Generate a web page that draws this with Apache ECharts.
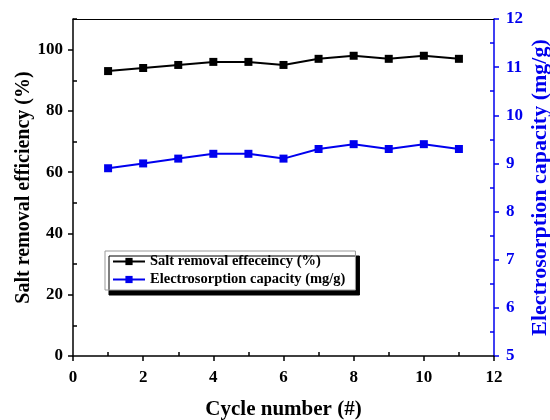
<!DOCTYPE html>
<html><head><meta charset="utf-8">
<script src="https://cdn.jsdelivr.net/npm/echarts@6/dist/echarts.min.js"></script>
<style>html,body{margin:0;padding:0;background:#fff}#c{width:550px;height:420px}</style>
</head><body><div id="c"></div>
<script>
var cycles = [1,2,3,4,5,6,7,8,9,10,11];
var efficiency = [93,94,95,96,96,95,97,98,97,98,97];
var capacity = [8.9,9.0,9.1,9.2,9.2,9.1,9.3,9.4,9.3,9.4,9.3];
var seriesNames = ['Salt removal effeceincy (%)','Electrosorption capacity (mg/g)'];
var xMinorPos = ['0','1','2','3','4','5','6','7','8','9','10','11','12'];
var yLeftMinorPos = ['0','10','20','30','40','50','60','70','80','90','100','110'];
var yRightMinorPos = ['5','5.5','6','6.5','7','7.5','8','8.5','9','9.5','10','10.5','11','11.5','12'];
var font = 'Liberation Serif';
var blue = '#0000ee';
function odd(i){ return i % 2 === 1; }
function minorAxis(cats, pos, color){
  return {
    type:'category', data:cats, boundaryGap:false, position:pos,
    axisLine:{show:false,onZero:false}, axisLabel:{show:false}, splitLine:{show:false},
    axisTick:{show:true, inside:true, length:4, interval:odd, lineStyle:{color:color,width:1.5}}
  };
}
var chart = echarts.init(document.getElementById('c'));
var xMinor = minorAxis(xMinorPos,'bottom','#000');
var yLMinor = minorAxis(yLeftMinorPos,'left','#000');
var yRMinor = minorAxis(yRightMinorPos,'right',blue);
chart.setOption({
  animation:false,
  grid:{left:73,right:56,top:19,bottom:64,outerBoundsMode:'none',containLabel:false},
  legend:{
    orient:'vertical', left:105, top:251,
    data:seriesNames, itemWidth:32, itemHeight:9, itemGap:3,
    padding:[3,10,3,7],
    backgroundColor:'#fff', borderColor:'#999', borderWidth:1,
    shadowColor:'#000', shadowBlur:0, shadowOffsetX:4, shadowOffsetY:5,
    borderRadius:0,
    textStyle:{fontFamily:font,fontWeight:'bold',fontSize:14.5,color:'#000'}
  },
  xAxis:[{
    type:'value', min:0, max:12, interval:2, position:'bottom',
    name:'Cycle number (#)', nameLocation:'middle', nameGap:43, nameMoveOverlap:false,
    nameTextStyle:{fontFamily:font,fontWeight:'bold',fontSize:21,color:'#000'},
    axisLine:{onZero:false,lineStyle:{color:'#000',width:1.5}},
    axisTick:{lineStyle:{color:'#000',width:1.5},length:5},
    splitLine:{show:false},
    axisLabel:{fontFamily:font,fontWeight:'bold',fontSize:17,color:'#000',margin:13}
  }, xMinor, {
    type:'value', min:0, max:12, position:'top',
    axisLine:{show:true,onZero:false,lineStyle:{color:'#000',width:1}},
    axisTick:{show:false}, axisLabel:{show:false}, splitLine:{show:false}
  }],
  yAxis:[{
    type:'value', min:0, max:110, interval:20, position:'left',
    name:'Salt removal efficiency (%)', nameLocation:'middle', nameGap:39, nameRotate:90, nameMoveOverlap:false,
    nameTextStyle:{fontFamily:font,fontWeight:'bold',fontSize:20,color:'#000'},
    axisLine:{show:true,onZero:false,lineStyle:{color:'#000',width:1.5}},
    axisTick:{show:true,lineStyle:{color:'#000',width:1.5},length:5},
    splitLine:{show:false},
    axisLabel:{fontFamily:font,fontWeight:'bold',fontSize:17,color:'#000',showMaxLabel:false,margin:10}
  },{
    type:'value', min:5, max:12, interval:1, position:'right',
    name:'Electrosorption capacity (mg/g)', nameLocation:'middle', nameGap:35, nameRotate:90, nameMoveOverlap:false,
    nameTextStyle:{fontFamily:font,fontWeight:'bold',fontSize:22,color:blue},
    axisLine:{show:true,onZero:false,lineStyle:{color:blue,width:1.5}},
    axisTick:{show:true,lineStyle:{color:blue,width:1.5},length:5},
    splitLine:{show:false},
    axisLabel:{fontFamily:font,fontWeight:'bold',fontSize:17,color:blue,margin:12}
  }, yLMinor, yRMinor],
  series:[{
    name:seriesNames[0], type:'line', xAxisIndex:0, yAxisIndex:0,
    data:cycles.map(function(c,i){return [c,efficiency[i]];}),
    symbol:'rect', symbolSize:8, color:'#000',
    lineStyle:{color:'#000',width:2}, itemStyle:{color:'#000'}
  },{
    name:seriesNames[1], type:'line', xAxisIndex:0, yAxisIndex:1,
    data:cycles.map(function(c,i){return [c,capacity[i]];}),
    symbol:'rect', symbolSize:8, color:blue,
    lineStyle:{color:blue,width:2}, itemStyle:{color:blue}
  }]
});
</script></body></html>
